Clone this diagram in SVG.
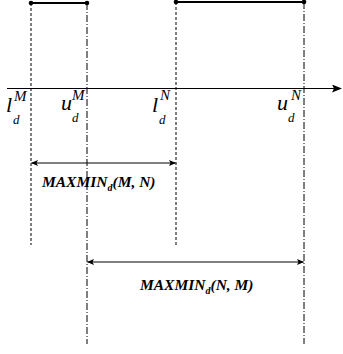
<svg xmlns="http://www.w3.org/2000/svg" width="343" height="354" viewBox="0 0 343 354">
<defs>
<style>
.dash{stroke:#000;stroke-width:1;stroke-dasharray:3,2;fill:none}
.dd{stroke:#000;stroke-width:1;stroke-dasharray:7,2,1,2;fill:none}
.seg{stroke:#000;stroke-width:2;fill:none}
.dim{stroke:#000;stroke-width:1;fill:none}
.big{font-family:"Liberation Serif",serif;font-style:italic;font-size:22px;fill:#000}
.sup{font-family:"Liberation Serif",serif;font-style:italic;font-size:15px;fill:#000}
.sub{font-family:"Liberation Serif",serif;font-style:italic;font-size:13px;fill:#000}
.lab{font-family:"Liberation Serif",serif;font-style:italic;font-weight:bold;font-size:15.5px;fill:#000}
</style>
<marker id="ah" markerWidth="10" markerHeight="8" refX="9" refY="4" orient="auto" markerUnits="userSpaceOnUse">
<path d="M0,0 L10,4 L0,8 L2,4 Z" fill="#000"/>
</marker>
<marker id="sa" markerWidth="7" markerHeight="6" refX="6.5" refY="3" orient="auto-start-reverse" markerUnits="userSpaceOnUse">
<path d="M0,0 L7,3 L0,6 L1.5,3 Z" fill="#000"/>
</marker>
</defs>
<rect width="343" height="354" fill="#fff"/>
<g id="connectors">
<line class="dash" x1="31" y1="3" x2="31" y2="245"/>
<line class="dd" x1="87" y1="3" x2="87" y2="344"/>
<line class="dash" x1="176" y1="2" x2="176" y2="245"/>
<line class="dd" x1="304" y1="2" x2="304" y2="344"/>
<line class="dim" x1="7" y1="88.5" x2="341" y2="88.5" stroke-width="1.5" marker-end="url(#ah)"/>
<line class="dim" x1="31.5" y1="163" x2="175.5" y2="163" marker-start="url(#sa)" marker-end="url(#sa)"/>
<line class="dim" x1="87.5" y1="262" x2="303.5" y2="262" marker-start="url(#sa)" marker-end="url(#sa)"/>
</g>
<g id="intervalM">
<line class="seg" x1="31" y1="3" x2="87" y2="3"/>
<circle cx="31" cy="3" r="2.3" fill="#000"/>
<circle cx="87" cy="3" r="2.3" fill="#000"/>
</g>
<g id="intervalN">
<line class="seg" x1="176" y1="2" x2="304" y2="2"/>
<circle cx="176" cy="2" r="2.3" fill="#000"/>
<circle cx="304" cy="2" r="2.3" fill="#000"/>
</g>
<g id="lM">
<text class="big" x="6" y="112">l</text>
<text class="sup" x="14" y="101">M</text>
<text class="sub" x="13" y="124">d</text>
</g>
<g id="uM">
<text class="big" x="61" y="110">u</text>
<text class="sup" x="72" y="100">M</text>
<text class="sub" x="72" y="122">d</text>
</g>
<g id="lN">
<text class="big" x="152" y="112">l</text>
<text class="sup" x="160" y="100">N</text>
<text class="sub" x="159" y="124">d</text>
</g>
<g id="uN">
<text class="big" x="277" y="110">u</text>
<text class="sup" x="291" y="100">N</text>
<text class="sub" x="288" y="122">d</text>
</g>
<g id="maxminMN">
<text class="lab" x="42" y="187">MAXMIN<tspan font-size="10" dy="4">d</tspan><tspan dy="-4">(M, N)</tspan></text>
</g>
<g id="maxminNM">
<text class="lab" x="140" y="290">MAXMIN<tspan font-size="10" dy="4">d</tspan><tspan dy="-4">(N, M)</tspan></text>
</g>
</svg>
